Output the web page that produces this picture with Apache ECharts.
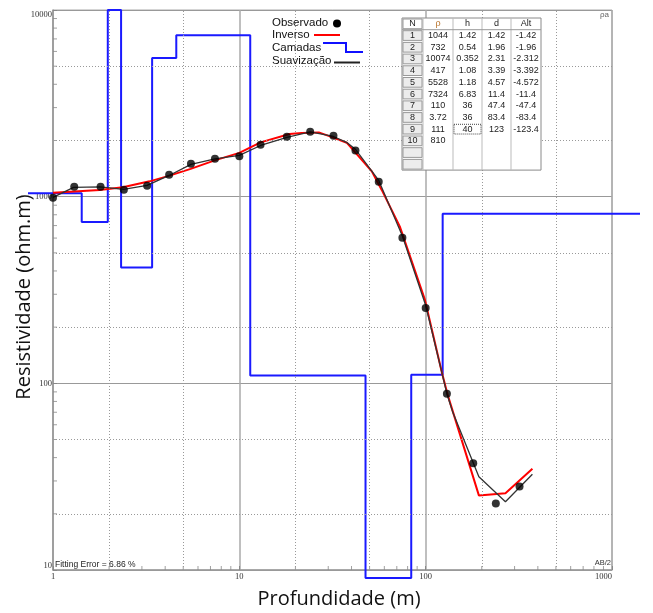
<!DOCTYPE html>
<html>
<head>
<meta charset="utf-8">
<script src="https://cdn.jsdelivr.net/npm/echarts@6/dist/echarts.min.js"></script>
<style>
  html, body { margin: 0; padding: 0; background: #fff; }
  #chart { width: 653px; height: 613px; }
</style>
</head>
<body>
<div id="chart"></div>
<script>
/* dados da sondagem (AB/2 x resistividade aparente) */
var abDist = [1, 1.3, 1.8, 2.4, 3.2, 4.2, 5.5, 7.4, 10, 13, 18, 24, 32, 42, 56, 75, 100, 130, 180, 238, 319];
var rhoObs = [988, 1131, 1131, 1090, 1145, 1312, 1503, 1598, 1644, 1899, 2096, 2229, 2122, 1770, 1203, 603, 253, 88, 37.3, 22.7, 28];

/* curva do modelo inverso */
var invX = [1, 1.78, 2.37, 3.3, 4.18, 5.48, 7.38, 10, 13, 18.6, 21.6, 26.7, 31.7, 37.7, 51.4, 58.1, 72.6, 98.9, 122, 131, 193, 268, 374];
var invRho = [1051, 1087, 1122, 1208, 1292, 1409, 1564, 1716, 1954, 2164, 2191, 2210, 2078, 1946, 1366, 1087, 693, 282, 115, 87.3, 25.1, 25.8, 34.9];

/* curva suavizada */
var smX = [1, 1.29, 1.79, 2.39, 3.2, 4.2, 5.5, 7.4, 10, 13, 18, 24, 32, 37.6, 42, 56, 75, 100, 130, 140, 193, 268, 374];
var smRho = [991, 1121, 1128, 1094, 1150, 1299, 1489, 1594, 1665, 1880, 2078, 2224, 2101, 1954, 1792, 1222, 616, 262, 88, 69.7, 31.6, 23.2, 32.6];

/* camadas (tabela) */
var layerN = [1, 2, 3, 4, 5, 6, 7, 8, 9, 10];
var layerRho = [1044, 732, 10074, 417, 5528, 7324, 110, 3.72, 111, 810];
var layerH = ['1.42', '0.54', '0.352', '1.08', '1.18', '6.83', '36', '36', '40'];
var layerD = [1.42, 1.96, 2.31, 3.39, 4.57, 11.4, 47.4, 83.4, 123];
var layerAlt = ['-1.42', '-1.96', '-2.312', '-3.392', '-4.572', '-11.4', '-47.4', '-83.4', '-123.4'];

/* linhas de grade pontilhadas */
var dotX = [2, 5, 20, 50, 200, 500];
var dotY = [20, 50, 200, 500, 2000, 5000];

/* eixo das camadas (mais largo que o quadro) */
var layXMin = 0.731, layXMax = 1410, layYMin = 9.06, layYMax = 10000;

var minors = [];
[1, 10, 100].forEach(function (dec) {
  [2, 3, 4, 5, 6, 7, 8, 9].forEach(function (m) { minors.push(m * dec); });
});
var minorsY = minors.map(function (v) { return v * 10; });

function clampRho(v) { return Math.min(Math.max(v, layYMin), layYMax); }

var layerLine = [[layXMin, clampRho(layerRho[0])]];
for (var i = 0; i < layerD.length; i++) {
  layerLine.push([layerD[i], clampRho(layerRho[i + 1])]);
}
layerLine.push([layXMax, clampRho(layerRho[layerRho.length - 1])]);

function pairs(xs, ys) { return xs.map(function (x, k) { return [x, ys[k]]; }); }
function plain(v) { return String(Math.round(v)); }

var chart = echarts.init(document.getElementById('chart'));

/* tabela */
var tblLeft = 402, tblTop = 18, rowH = 11.7;
var colEdges = [402, 423, 453, 482, 511, 541];
var nRows = 13;
var tbl = [];
var tblFont = '9px "Liberation Sans"';
tbl.push({ type: 'rect', shape: { x: tblLeft, y: tblTop, width: colEdges[5] - tblLeft, height: rowH * nRows },
  style: { fill: '#fff', stroke: '#8a8a8a', lineWidth: 1 }, z: 100 });
for (var c = 1; c < 5; c++) {
  tbl.push({ type: 'line', shape: { x1: colEdges[c], y1: tblTop, x2: colEdges[c], y2: tblTop + rowH * nRows },
    style: { stroke: '#bbb', lineWidth: 1 }, z: 101 });
}
for (var r = 0; r < nRows; r++) {
  tbl.push({ type: 'rect', shape: { x: colEdges[0] + 1, y: tblTop + r * rowH + 1, width: colEdges[1] - colEdges[0] - 2, height: rowH - 2 },
    style: { fill: r === 0 ? '#fff' : '#ececec', stroke: '#999', lineWidth: 1 }, z: 102 });
}
tbl.push({ type: 'line', shape: { x1: tblLeft, y1: tblTop + rowH, x2: colEdges[5], y2: tblTop + rowH },
  style: { stroke: '#999', lineWidth: 1 }, z: 101 });
var headers = ['N', 'ρ', 'h', 'd', 'Alt'];
headers.forEach(function (h, k) {
  tbl.push({ type: 'text', x: (colEdges[k] + colEdges[k + 1]) / 2, y: tblTop + rowH / 2,
    style: { text: h, font: tblFont, fill: k === 1 ? '#b8742c' : '#222', align: 'center', verticalAlign: 'middle' }, z: 103 });
});
function cell(col, row, txt) {
  tbl.push({ type: 'text', x: (colEdges[col] + colEdges[col + 1]) / 2, y: tblTop + (row + 0.5) * rowH,
    style: { text: String(txt), font: tblFont, fill: '#222', align: 'center', verticalAlign: 'middle' }, z: 103 });
}
layerN.forEach(function (n, k) {
  cell(0, k + 1, n);
  cell(1, k + 1, layerRho[k]);
  if (k < layerH.length) {
    cell(2, k + 1, layerH[k]);
    cell(3, k + 1, layerD[k]);
    cell(4, k + 1, layerAlt[k]);
  }
});
tbl.push({ type: 'rect', shape: { x: colEdges[2] + 1, y: tblTop + 9 * rowH + 1, width: colEdges[3] - colEdges[2] - 2, height: rowH - 2 },
  style: { fill: 'none', stroke: '#444', lineWidth: 1, lineDash: [1, 1] }, z: 103 });

/* legenda */
var legFont = '11.5px "Liberation Sans"';
var legend = [
  { type: 'text', x: 272, y: 23, style: { text: 'Observado', font: legFont, fill: '#111', verticalAlign: 'middle' }, z: 100 },
  { type: 'circle', shape: { cx: 337, cy: 23.5, r: 4 }, style: { fill: '#000' }, z: 100 },
  { type: 'text', x: 272, y: 35, style: { text: 'Inverso', font: legFont, fill: '#111', verticalAlign: 'middle' }, z: 100 },
  { type: 'line', shape: { x1: 314, y1: 35, x2: 340, y2: 35 }, style: { stroke: '#ff0000', lineWidth: 2 }, z: 100 },
  { type: 'text', x: 272, y: 47.5, style: { text: 'Camadas', font: legFont, fill: '#111', verticalAlign: 'middle' }, z: 100 },
  { type: 'polyline', shape: { points: [[323, 43], [346, 43], [346, 52], [363, 52]] }, style: { stroke: '#1010ff', lineWidth: 2, fill: 'none' }, z: 100 },
  { type: 'text', x: 272, y: 60.5, style: { text: 'Suavização', font: legFont, fill: '#111', verticalAlign: 'middle' }, z: 100 },
  { type: 'line', shape: { x1: 334, y1: 62.5, x2: 360, y2: 62.5 }, style: { stroke: '#222', lineWidth: 2 }, z: 100 }
];

/* textos soltos */
var extras = [
  { type: 'text', x: 55, y: 565, style: { text: 'Fitting Error = 6.86 %', font: '8.5px "Liberation Sans"', fill: '#222', verticalAlign: 'middle' }, z: 100 },
  { type: 'text', x: 611, y: 563, style: { text: 'AB/2', font: '7.5px "Liberation Sans"', fill: '#333', align: 'right', verticalAlign: 'middle' }, z: 100 },
  { type: 'text', x: 609, y: 15, style: { text: 'ρa', font: '8px "Liberation Sans"', fill: '#666', align: 'right', verticalAlign: 'middle' }, z: 100 },
  { type: 'text', x: 339, y: 599, style: { text: 'Profundidade (m)', font: '20px "Open Sans"', fill: '#111', align: 'center', verticalAlign: 'middle' }, z: 100 },
  { type: 'text', x: 24, y: 297, rotation: Math.PI / 2, style: { text: 'Resistividade (ohm.m)', font: '20px "Open Sans"', fill: '#111', align: 'center', verticalAlign: 'middle' }, z: 100 }
];

var tickStyle = { color: '#888' };

option = {
  animation: false,
  backgroundColor: '#fff',
  grid: [
    { left: 53, top: 10, width: 559, height: 560, show: true, borderColor: '#aaa', borderWidth: 1 },
    { left: 28, top: 10, width: 612, height: 568, show: false }
  ],
  xAxis: [
    {
      type: 'log', logBase: 10, min: 1, max: 1000, gridIndex: 0,
      axisLine: { lineStyle: { color: '#999', width: 1.5 } },
      axisTick: { show: true, inside: true, length: 4, lineStyle: { color: '#888' } },
      axisLabel: { fontFamily: 'Liberation Serif', fontSize: 8.5, color: '#333', margin: 2, alignMaxLabel: 'right', formatter: plain },
      splitLine: { show: true, lineStyle: { color: '#aaa', width: 1.5 } }
    },
    { type: 'log', logBase: 10, min: layXMin, max: layXMax, gridIndex: 1, show: false }
  ],
  yAxis: [
    {
      type: 'log', logBase: 10, min: 10, max: 10000, gridIndex: 0,
      axisLine: { lineStyle: { color: '#999', width: 1.5 } },
      axisTick: { show: true, inside: true, length: 4, lineStyle: { color: '#888' } },
      axisLabel: { fontFamily: 'Liberation Serif', fontSize: 8.5, color: '#333', margin: 1, formatter: plain,
        verticalAlignMinLabel: 'bottom', verticalAlignMaxLabel: 'top' },
      splitLine: { show: true, lineStyle: { color: '#999', width: 1.2 } }
    },
    { type: 'log', logBase: 10, min: layYMin, max: layYMax, gridIndex: 1, show: false }
  ],
  graphic: tbl.concat(legend, extras),
  series: [
    {
      name: 'grade', type: 'line', xAxisIndex: 0, yAxisIndex: 0, silent: true,
      data: [[1, 10]], symbol: 'none', lineStyle: { opacity: 0 }, z: 1,
      markLine: {
        silent: true, symbol: 'none', label: { show: false },
        lineStyle: { color: '#999', type: [1, 2], width: 1 },
        data: dotX.map(function (v) { return { xAxis: v }; }).concat(dotY.map(function (v) { return { yAxis: v }; }))
      }
    },
    {
      name: 'ticksX', type: 'scatter', xAxisIndex: 0, yAxisIndex: 0, silent: true, clip: false, z: 2,
      data: minors.map(function (v) { return [v, 10]; }),
      symbol: 'rect', symbolSize: [1, 4], symbolOffset: [0, -2], itemStyle: tickStyle
    },
    {
      name: 'ticksY', type: 'scatter', xAxisIndex: 0, yAxisIndex: 0, silent: true, clip: false, z: 2,
      data: minorsY.map(function (v) { return [1, v]; }),
      symbol: 'rect', symbolSize: [4, 1], symbolOffset: [2, 0], itemStyle: tickStyle
    },
    {
      name: 'Camadas', type: 'line', xAxisIndex: 1, yAxisIndex: 1, step: 'end', clip: false,
      data: layerLine, symbol: 'none', lineStyle: { color: '#1a1aff', width: 2 }, z: 3
    },
    {
      name: 'Inverso', type: 'line', data: pairs(invX, invRho), symbol: 'none',
      lineStyle: { color: '#ff0000', width: 2 }, z: 4
    },
    {
      name: 'Suavização', type: 'line', data: pairs(smX, smRho), symbol: 'none',
      lineStyle: { color: '#333', width: 1.3 }, z: 5
    },
    {
      name: 'Observado', type: 'scatter', data: pairs(abDist, rhoObs), clip: false,
      symbol: 'circle', symbolSize: 8, itemStyle: { color: '#000' }, z: 6
    }
  ]
};
chart.setOption(option);
</script>
</body>
</html>
